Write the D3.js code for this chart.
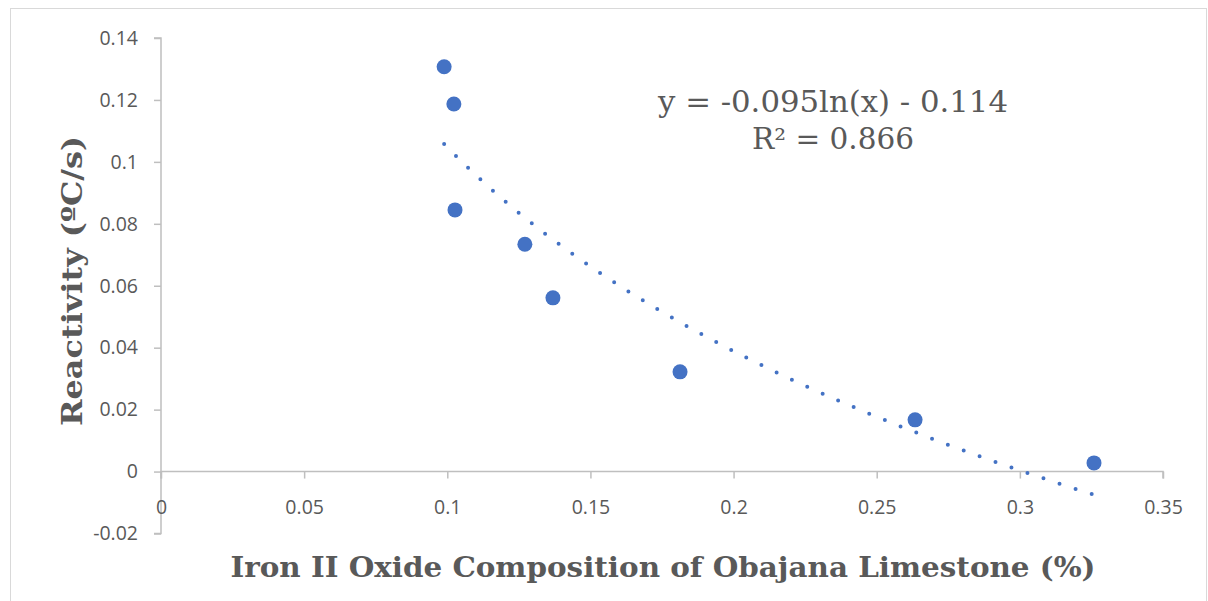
<!DOCTYPE html>
<html><head><meta charset="utf-8">
<script src="https://cdn.jsdelivr.net/npm/d3@7"></script>
<style>body{margin:0;background:#fff}svg{display:block}</style>
</head><body>
<script>
const xValues = [0.0989, 0.1023, 0.1027, 0.1271, 0.1369, 0.1813, 0.2634, 0.3259];
const yValues = [0.1307, 0.1187, 0.0845, 0.0734, 0.0561, 0.0322, 0.0167, 0.0028];
const xTicks = [0, 0.05, 0.1, 0.15, 0.2, 0.25, 0.3, 0.35];
const yTicks = [-0.02, 0, 0.02, 0.04, 0.06, 0.08, 0.1, 0.12, 0.14];
const trendCoef = [-0.095, -0.114];
const equationLines = ["y = -0.095ln(x) - 0.114", "R² = 0.866"];
const xTitle = "Iron II Oxide Composition of Obajana Limestone (%)";
const yTitle = "Reactivity (ºC/s)";

const W = 1208, H = 601;
const svg = d3.select("body").append("svg").attr("width", W).attr("height", H);
svg.append("rect").attr("x", 10.5).attr("y", 8.5).attr("width", 1196).attr("height", 600)
  .attr("fill", "#fff").attr("stroke", "#d9d9d9").attr("stroke-width", 1);

const x = d3.scaleLinear().domain([0, 0.35]).range([161, 1163]);
const y = d3.scaleLinear().domain([-0.02, 0.14]).range([533.5, 38]);
const axisColor = "#bfbfbf", textColor = "#595959";
const font = "'Open Sans', 'Noto Sans', sans-serif";
const fmt = d => String(+d.toFixed(2));

// y axis
const ya = svg.append("g").attr("transform", `translate(${x(0)},0)`)
  .call(d3.axisLeft(y).tickValues(yTicks).tickSize(7).tickPadding(16).tickFormat(fmt));
// x axis at y=0
const xa = svg.append("g").attr("transform", `translate(0,${y(0)})`)
  .call(d3.axisBottom(x).tickValues(xTicks).tickSize(7).tickPadding(22).tickFormat(fmt));
[ya, xa].forEach(g => {
  g.select(".domain").attr("stroke", axisColor).attr("stroke-width", 1.5);
  g.selectAll(".tick line").attr("stroke", axisColor).attr("stroke-width", 1.5);
  g.selectAll(".tick text").attr("fill", textColor).attr("font-family", font).attr("font-size", 19.5);
});
ya.select(".domain").attr("d", `M-7,${y(0.14)}H0V${y(-0.02)}H-7`);
xa.select(".domain").attr("d", `M${x(0)},7V0H${x(0.35)}V7`);

// trendline
const trend = d3.range(0, 201).map(i => {
  const xv = d3.min(xValues) + (d3.max(xValues) - d3.min(xValues)) * i / 200;
  return [xv, trendCoef[0] * Math.log(xv) + trendCoef[1]];
});
svg.append("path").datum(trend)
  .attr("d", d3.line().x(d => x(d[0])).y(d => y(d[1])))
  .attr("fill", "none").attr("stroke", "#4472c4").attr("stroke-width", 4)
  .attr("stroke-linecap", "round").attr("stroke-dasharray", "0 16.9");

// points
svg.append("g").selectAll("circle").data(xValues.map((v, i) => [v, yValues[i]])).join("circle")
  .attr("cx", d => x(d[0])).attr("cy", d => y(d[1])).attr("r", 7.5).attr("fill", "#4472c4");

// equation
const eqLens = [350, 162];
const eq = svg.append("text").attr("text-anchor", "middle").attr("fill", textColor)
  .attr("font-family", "'DejaVu Serif', 'Liberation Serif', serif").attr("font-size", 29);
eq.selectAll("tspan").data(equationLines).join("tspan")
  .attr("x", 833).attr("y", (d, i) => 112 + i * 37)
  .attr("textLength", (d, i) => eqLens[i]).attr("lengthAdjust", "spacingAndGlyphs").text(d => d);

// titles
svg.append("text").attr("x", 663).attr("y", 577).attr("text-anchor", "middle")
  .attr("fill", textColor).attr("font-family", "'DejaVu Serif', serif").attr("font-weight", "bold")
  .attr("font-size", 28).attr("textLength", 865).attr("lengthAdjust", "spacingAndGlyphs").text(xTitle);
svg.append("text").attr("transform", "translate(82,281) rotate(-90)").attr("text-anchor", "middle")
  .attr("fill", textColor).attr("font-family", "'DejaVu Serif', serif").attr("font-weight", "bold")
  .attr("font-size", 28).attr("textLength", 290).attr("lengthAdjust", "spacingAndGlyphs").text(yTitle);
</script>
</body></html>
